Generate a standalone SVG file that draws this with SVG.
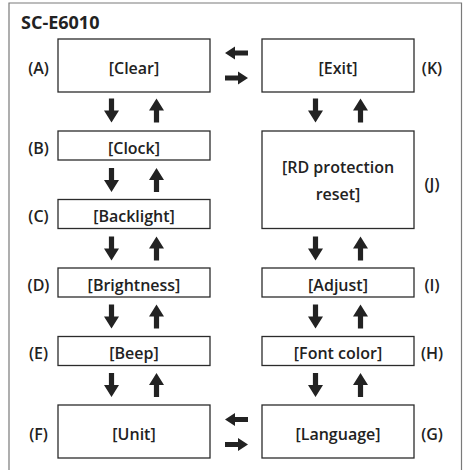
<svg xmlns="http://www.w3.org/2000/svg" xmlns:xlink="http://www.w3.org/1999/xlink" width="463" height="470" viewBox="0 0 463 470">
<style>
.box{fill:#fff;stroke:#2b2b2b;stroke-width:1.3}
.t{font-family:"Open Sans","Liberation Sans",sans-serif;font-weight:600;font-size:16px;fill:#222;text-anchor:middle}
.title{font-family:"Open Sans","Liberation Sans",sans-serif;font-weight:700;font-size:18px;fill:#222}
.frame{fill:none;stroke:#7a7a7a;stroke-width:1.2}
.arr{fill:#222}
</style>
<defs>
<path id="down" d="M-2.6,-12 H2.6 V0 H7.5 L0,12 L-7.5,0 H-2.6 Z"/>
<path id="up" d="M-2.6,12 H2.6 V0 H7.5 L0,-12 L-7.5,0 H-2.6 Z"/>
<path id="left" d="M-11.5,0 L-1.5,-6.5 V-2.6 H11.5 V2.6 H-1.5 V6.5 Z"/>
<path id="right" d="M11.5,0 L1.5,-6.5 V-2.6 H-11.5 V2.6 H1.5 V6.5 Z"/>
</defs>
<rect width="463" height="470" fill="#fff"/>
<path class="frame" d="M9,470 V3 H461.5 V470"/>
<text class="title" x="21" y="29">SC-E6010</text>

<g id="A"><rect class="box" x="58" y="39" width="152" height="53"/><text class="t" x="134" y="74">[Clear]</text><text class="t" x="38.5" y="74">(A)</text></g>
<g id="B"><rect class="box" x="58" y="131" width="152" height="29"/><text class="t" x="134" y="153.5">[Clock]</text><text class="t" x="38.5" y="153.5">(B)</text></g>
<g id="C"><rect class="box" x="58" y="199.5" width="152" height="29"/><text class="t" x="134" y="222">[Backlight]</text><text class="t" x="38.5" y="222">(C)</text></g>
<g id="D"><rect class="box" x="58" y="268" width="152" height="29"/><text class="t" x="134" y="290.5">[Brightness]</text><text class="t" x="38.5" y="290.5">(D)</text></g>
<g id="E"><rect class="box" x="58" y="336.5" width="152" height="29"/><text class="t" x="134" y="359">[Beep]</text><text class="t" x="38.5" y="359">(E)</text></g>
<g id="F"><rect class="box" x="58" y="405" width="152" height="53"/><text class="t" x="134" y="440">[Unit]</text><text class="t" x="38.5" y="440">(F)</text></g>

<g id="K"><rect class="box" x="262" y="39" width="152" height="53"/><text class="t" x="338" y="74">[Exit]</text><text class="t" x="432" y="74">(K)</text></g>
<g id="J"><rect class="box" x="262" y="131" width="152" height="97.5"/><text class="t" x="338" y="173">[RD protection</text><text class="t" x="338" y="200">reset]</text><text class="t" x="432" y="190">(J)</text></g>
<g id="I"><rect class="box" x="262" y="268" width="152" height="29"/><text class="t" x="338" y="290.5">[Adjust]</text><text class="t" x="432" y="290.5">(I)</text></g>
<g id="H"><rect class="box" x="262" y="336.5" width="152" height="29"/><text class="t" x="338" y="359">[Font color]</text><text class="t" x="432" y="359">(H)</text></g>
<g id="G"><rect class="box" x="262" y="405" width="152" height="53"/><text class="t" x="338" y="440">[Language]</text><text class="t" x="432" y="440">(G)</text></g>

<g id="connectors" class="arr">
<use href="#left" x="236.5" y="53"/>
<use href="#right" x="236.5" y="78"/>
<use href="#left" x="236.5" y="419.5"/>
<use href="#right" x="236.5" y="444.5"/>

<use href="#down" x="111.5" y="110.5"/><use href="#up" x="156.5" y="110.5"/>
<use href="#down" x="111.5" y="180"/><use href="#up" x="156.5" y="180"/>
<use href="#down" x="111.5" y="248.5"/><use href="#up" x="156.5" y="248.5"/>
<use href="#down" x="111.5" y="316.5"/><use href="#up" x="156.5" y="316.5"/>
<use href="#down" x="111.5" y="385"/><use href="#up" x="156.5" y="385"/>

<use href="#down" x="315.5" y="110.5"/><use href="#up" x="360.5" y="110.5"/>
<use href="#down" x="315.5" y="248.5"/><use href="#up" x="360.5" y="248.5"/>
<use href="#down" x="315.5" y="316.5"/><use href="#up" x="360.5" y="316.5"/>
<use href="#down" x="315.5" y="385"/><use href="#up" x="360.5" y="385"/>
</g>
</svg>
